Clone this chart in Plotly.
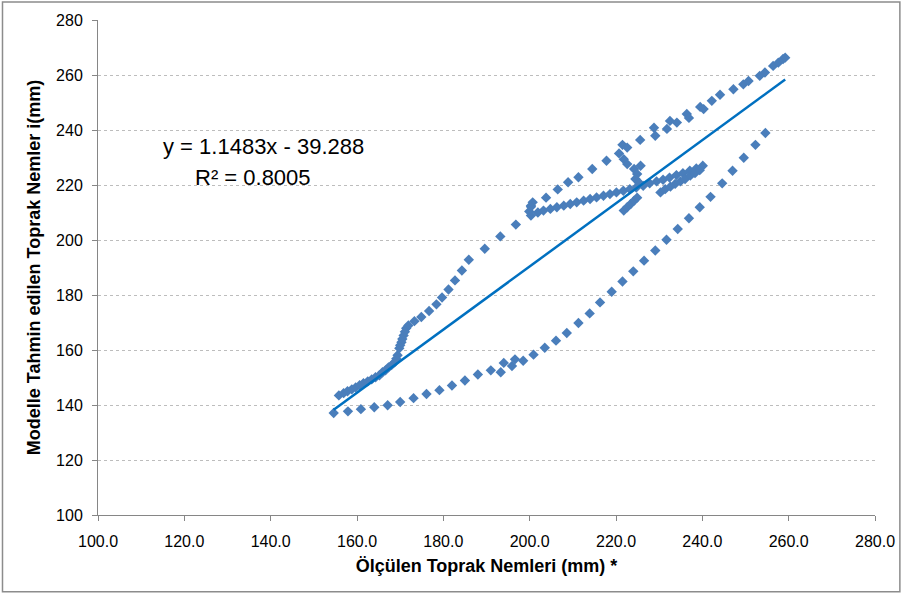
import plotly.graph_objects as go

lower_x = [154.6,157.9,160.9,164.0,167.1,170.0,173.1,176.1,179.1,182.0,185.0,188.0,191.0,193.3,194.0,195.9,196.6,198.5,200.9,203.5,206.1,208.6,211.3,213.9,216.3,219.0,221.5,224.0,226.5,229.1,231.7,234.3,236.9,239.4,241.9,244.6,247.0,249.6,252.3,254.6]
lower_y = [137.1,137.7,138.5,139.2,139.9,141.1,142.5,144.0,145.4,147.1,148.9,151.1,152.6,151.9,155.3,154.2,156.6,156.1,158.3,160.8,163.4,166.2,169.8,173.3,177.3,181.2,184.9,188.6,192.5,196.2,200.1,204.0,207.9,211.9,215.7,220.6,225.2,229.9,234.6,238.9]

rise_x = [155.8,156.9,157.8,158.8,159.7,160.6,161.5,162.5,163.4,164.3,165.2,165.9,166.6,167.3,168.7,169.4,169.8,170.3,170.8,171.4,171.9,173.3,174.9,176.7,178.4,179.7,181.2,182.7,184.3,185.9,189.6,193.2,196.8,200.3,200.7,203.8,206.5,208.9,211.3,214.5,217.8,220.7,221.5,222.6]
rise_y = [143.5,144.3,145.0,145.7,146.4,147.2,147.9,148.6,149.3,150.1,150.8,151.9,152.6,153.7,155.5,158.1,160.6,162.8,165.3,167.9,168.9,170.5,172.0,174.2,176.6,179.1,182.0,185.3,188.9,192.8,196.8,201.3,205.6,212.5,213.7,215.4,218.4,221.0,222.8,225.8,228.8,231.5,234.6,233.6]

steep_x = [168.0,169.1,170.0,170.5,171.1]
steep_y = [154.5,156.8,161.7,164.0,166.6]

hook_x = [221.8,222.6,224.2,225.7,224.9,224.5,225.3]
hook_y = [229.4,227.6,225.8,227.0,224.0,222.2,220.9]

top_x = [225.6,228.8,229.1,231.8,232.5,234.1,236.4,236.9,239.5,240.3,242.2,244.1,247.2,249.5,250.7,253.3,254.5,256.4,257.6,258.7,259.2]
top_y = [236.4,240.8,237.9,240.4,243.3,242.7,245.8,244.4,248.4,247.6,250.6,252.8,254.8,256.6,257.8,259.7,260.9,263.3,264.5,265.8,266.3]

mid_x = [199.9,200.3,200.3,201.9,203.2,204.8,206.3,207.9,209.4,210.9,212.5,214.0,215.5,217.1,218.6,220.1,221.7,223.2,224.7,226.3,227.8,229.4,230.9,232.4,234.0,235.5,237.1,238.6,240.1]
mid_y = [210.4,212.1,208.9,210.0,210.7,211.3,211.9,212.5,213.1,213.7,214.3,214.9,215.5,216.1,216.7,217.3,217.9,218.5,219.1,219.7,220.6,221.3,221.9,222.7,223.6,224.3,225.2,226.0,227.0]

strip_x = [230.3,231.4,232.6,233.7,234.9,236.0,237.2,238.3,239.4]
strip_y = [217.3,218.5,219.4,220.4,221.3,222.2,223.4,224.3,225.4]

seg_x = [221.8,222.6,223.4,224.2,224.9]
seg_y = [210.7,211.9,213.1,214.3,215.4]

slope = 1.1483
intercept = -39.288
eq_text = "y = 1.1483x - 39.288"
r2_text = "R² = 0.8005"

x_ticks = [100, 120, 140, 160, 180, 200, 220, 240, 260, 280]
y_ticks = [100, 120, 140, 160, 180, 200, 220, 240, 260, 280]

x_title = "Ölçülen Toprak Nemleri (mm) *"
y_title = "Modelle Tahmin edilen Toprak Nemler i(mm)"

all_x = lower_x + rise_x + steep_x + hook_x + top_x + mid_x + strip_x + seg_x
all_y = lower_y + rise_y + steep_y + hook_y + top_y + mid_y + strip_y + seg_y

x_lo, x_hi = min(all_x), max(all_x)
trend_x = [x_lo, x_hi]
trend_y = [slope * v + intercept for v in trend_x]

FONT = "Liberation Sans"

fig = go.Figure()
fig.add_trace(go.Scatter(
    x=all_x, y=all_y, mode="markers",
    marker=dict(symbol="diamond", size=8, color="#4A7EBB", line=dict(width=0)),
    showlegend=False, hoverinfo="x+y"))
fig.add_trace(go.Scatter(
    x=trend_x, y=trend_y, mode="lines",
    line=dict(color="#0070C0", width=2.5),
    showlegend=False, hoverinfo="skip"))

fig.add_annotation(x=138.4, y=233.9, xref="x", yref="y", text=eq_text,
                   showarrow=False, font=dict(family=FONT, size=22, color="#000000"))
fig.add_annotation(x=136.0, y=222.6, xref="x", yref="y", text=r2_text,
                   showarrow=False, font=dict(family=FONT, size=22, color="#000000"))

# outer chart frame
L, R, T, B = 98, 28, 19, 80
W, H = 907, 595
pw, ph = W - L - R, H - T - B
fig.add_shape(type="rect", xref="paper", yref="paper",
              x0=(2 - L) / pw, x1=(W - 3 - L) / pw,
              y0=-(H - 3 - (T + ph)) / ph, y1=(T + ph - 1) / ph,
              line=dict(color="#8C8C8C", width=1.5), fillcolor="rgba(0,0,0,0)", layer="below")

fig.update_layout(
    width=W, height=H,
    margin=dict(l=L, r=R, t=T, b=B),
    paper_bgcolor="white", plot_bgcolor="white",
    font=dict(family=FONT, size=15, color="#000000"),
    xaxis=dict(range=[100, 280], tickvals=x_ticks, tickformat=".1f",
               showgrid=False, zeroline=False,
               showline=True, linecolor="#868686", linewidth=1,
               ticks="outside", ticklen=5, tickcolor="#868686",
               ticklabelstandoff=7,
               tickfont=dict(family=FONT, size=16),
               title=dict(text="<b>" + x_title + "</b>", font=dict(family=FONT, size=18), standoff=10)),
    yaxis=dict(range=[100, 280], tickvals=y_ticks,
               showgrid=True, gridcolor="#BDBDBD", griddash="dot", gridwidth=1,
               zeroline=False,
               showline=True, linecolor="#868686", linewidth=1,
               ticks="outside", ticklen=5, tickcolor="#868686",
               ticklabelstandoff=6,
               tickfont=dict(family=FONT, size=16),
               title=dict(text="<b>" + y_title + "</b>", font=dict(family=FONT, size=18), standoff=10)),
)

fig.write_html("out.html", config={"displayModeBar": False},
               post_script="document.body.style.margin='0';document.body.style.overflow='hidden';")
